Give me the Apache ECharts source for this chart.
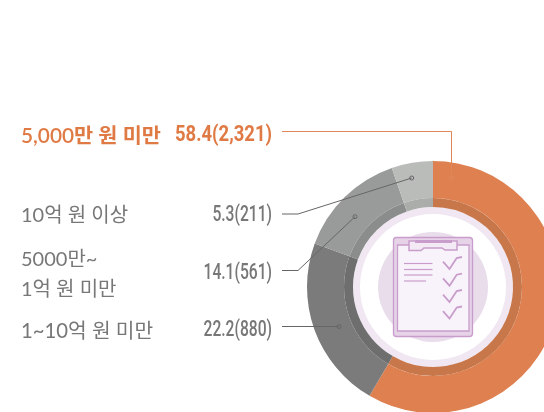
<!DOCTYPE html>
<html><head><meta charset="utf-8">
<style>html,body{margin:0;padding:0;background:#fff}#c{width:544px;height:412px}</style>
<script src="https://cdn.jsdelivr.net/npm/echarts@6/dist/echarts.min.js"></script>
</head><body><div id="c"></div>
<script>
const categories = ['5,000만 원 미만', '1~10억 원 미만', '5000만~\n1억 원 미만', '10억 원 이상'];
const shares = [58.4, 22.2, 14.1, 5.3];
const counts = ['2,321', '880', '561', '211'];
const outerColors = ['#DF8050', '#7B7B7B', '#999B9A', '#BABCBA'];
const innerColors = ['#C8774B', '#6E6E6E', '#8B8D8C', '#ABADAB'];

const CX = 433, CY = 287;
const KFONT = 'Lato, "Noto Sans CJK KR", sans-serif';
const NFONT = 'Roboto, sans-serif';
const PURPLE = '#C99DCB';

const rows = [
  {i:0, ly:136, vy:135, color:'#E07A45', weight:600, size:20.8, sx:0.84, numWeight:700, line:'#E0875A', pts:[[282,131.5],[451.5,131.5],[451.5,178]]},
  {i:3, ly:216, vy:215, color:'#777', weight:400, size:20, sx:0.71, numWeight:500, line:'#666', pts:[[282,214],[298,214],[411.7,178]]},
  {i:2, ly:274.5, vy:273, color:'#777', weight:400, size:20, sx:0.71, numWeight:500, line:'#666', pts:[[282,270.5],[298,270.5],[355,216.7]]},
  {i:1, ly:331, vy:330, color:'#777', weight:400, size:20.3, sx:0.71, numWeight:500, line:'#666', pts:[[282,326.5],[339,326.5]]}
];

const g = [];
g.push({type:'circle',shape:{cx:CX,cy:CY,r:80},style:{fill:'#F0E7F2'}});
g.push({type:'circle',shape:{cx:CX,cy:CY,r:73},style:{fill:'#fff'}});
g.push({type:'circle',shape:{cx:CX,cy:CY,r:55},style:{fill:'#E9DDEC'}});
g.push({type:'rect',shape:{x:393.5,y:237.5,width:79,height:99,r:3},style:{fill:'#E6D3E8',stroke:PURPLE,lineWidth:1.3}});
g.push({type:'rect',shape:{x:397.5,y:245,width:71.5,height:86},style:{fill:'#F8F3FA',stroke:PURPLE,lineWidth:1.3}});
g.push({type:'polygon',shape:{points:[[409,241],[457,241],[457,250],[445,250],[442,248],[424,248],[421,250.5],[409,250.5]]},style:{fill:'#F3EAF5',stroke:PURPLE,lineWidth:1.5}});
g.push({type:'rect',shape:{x:415,y:240,width:37,height:3},style:{fill:PURPLE}});
[[263.5,432.5],[269.5,432.5],[275,432.5],[281,426]].forEach(([y,x2])=>{
  g.push({type:'line',shape:{x1:404,y1:y,x2:x2,y2:y},style:{stroke:PURPLE,lineWidth:1.2}});
});
[0,16.7,33,49.5].forEach(d=>{
  g.push({type:'polyline',shape:{points:[[443,261.7+d],[449.5,269+d],[456.7,258+d],[462,257+d]]},style:{stroke:PURPLE,lineWidth:1.8,fill:'none'}});
});
rows.forEach(r=>{
  g.push({type:'polyline',z:10,shape:{points:r.pts},style:{stroke:r.line,lineWidth:1,fill:'none'}});
  const e=r.pts[r.pts.length-1];
  g.push({type:'circle',z:10,shape:{cx:e[0],cy:e[1],r:2},style:{fill:'none',stroke:r.line,lineWidth:1}});
  g.push({type:'text',z:10,style:{x:21,y:r.ly,text:categories[r.i],fill:r.color,font:r.weight+' '+r.size+'px '+KFONT,lineHeight:30,textVerticalAlign:'middle',textBaseline:'middle'}});
  g.push({type:'text',z:10,x:272,y:r.vy,scaleX:r.sx,style:{x:0,y:0,text:shares[r.i].toFixed(1)+'('+counts[r.i]+')',fill:r.color,font:r.numWeight+' 22px '+NFONT,textAlign:'right',textVerticalAlign:'middle',textBaseline:'middle'}});
});

const data = (colors)=>shares.map((v,i)=>({value:v,name:categories[i],itemStyle:{color:colors[i]}}));
const chart = echarts.init(document.getElementById('c'),null,{renderer:'canvas'});
chart.setOption({
  animation:false,
  backgroundColor:'#fff',
  series:[
    {type:'pie',silent:true,center:[CX,CY],radius:[89,126],startAngle:90,clockwise:true,label:{show:false},labelLine:{show:false},data:data(outerColors)},
    {type:'pie',silent:true,center:[CX,CY],radius:[80,89],startAngle:90,clockwise:true,label:{show:false},labelLine:{show:false},data:data(innerColors)}
  ],
  graphic:{elements:g}
});
</script></body></html>
